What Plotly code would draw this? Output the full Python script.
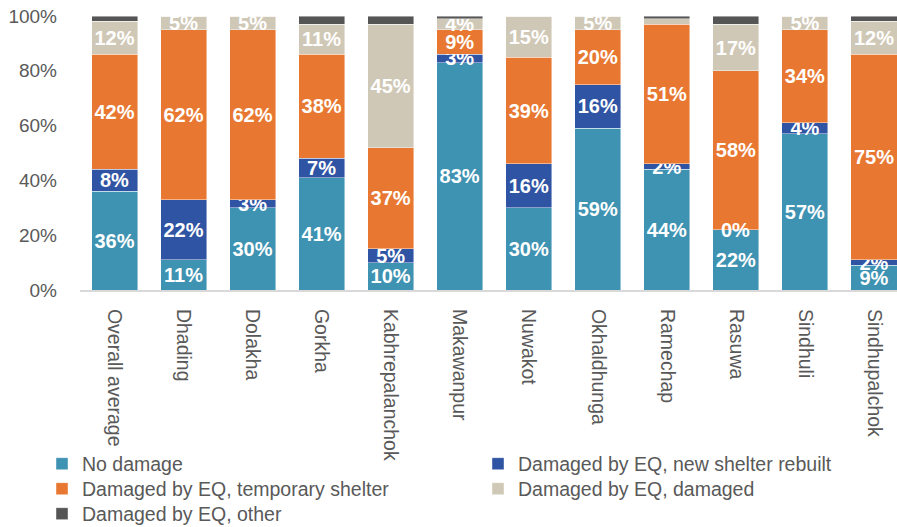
import plotly.graph_objects as go

# Districts shown along the x axis
categories = [
    "Overall average", "Dhading", "Dolakha", "Gorkha", "Kabhrepalanchok",
    "Makawanpur", "Nuwakot", "Okhaldhunga", "Ramechap", "Rasuwa",
    "Sindhuli", "Sindhupalchok",
]

# Share of households (%) by shelter status
no_damage   = [36, 11, 30, 41, 10, 83, 30, 59, 44, 22, 57, 9]
new_shelter = [8, 22, 3, 7, 5, 3, 16, 16, 2, 0, 4, 2]
temporary   = [42, 62, 62, 38, 37, 9, 39, 20, 51, 58, 34, 75]
damaged     = [12, 5, 5, 11, 45, 4, 15, 5, 2, 17, 5, 12]
other       = [2, 0, 0, 3, 3, 1, 0, 0, 1, 3, 0, 2]

y_ticks = [0, 20, 40, 60, 80, 100]
y_tick_text = [f"{v}%" for v in y_ticks]

FONT = "Liberation Sans, Arial, sans-serif"
GREY = "#595959"

W, H = 897, 527
ML, MR, MT, MB = 80, 0, 16, 237

LABEL_FONT = dict(family=FONT, size=20, color="white", weight="bold")


def labels(vals, hide=()):
    return ["" if i in hide else f"{v}%" for i, v in enumerate(vals)]


series = [
    ("No damage", no_damage, "#3E92B2", labels(no_damage), "legend2"),
    ("Damaged by EQ, new shelter rebuilt", new_shelter, "#2F54A3", labels(new_shelter), "legend3"),
    ("Damaged by EQ, temporary shelter", temporary, "#E87831", labels(temporary), "legend4"),
    ("Damaged by EQ, damaged", damaged, "#D0C8B6", labels(damaged, hide={8}), "legend5"),
    ("Damaged by EQ, other", other, "#555555", [""] * len(other), "legend6"),
]

fig = go.Figure()
base = [0] * len(categories)
zero_notes = []
for name, vals, color, txt, leg in series:
    fig.add_trace(go.Bar(
        x=categories, y=vals, name=name, legend=leg,
        marker=dict(color=color, line=dict(color="rgba(255,255,255,0.55)", width=0.8)),
        text=txt, textposition="inside", insidetextanchor="middle",
        textangle=0, constraintext="none",
        textfont=LABEL_FONT,
        hoverinfo="skip",
    ))
    # zero-height segments get no bar text, so label them at their stack level
    for i, v in enumerate(vals):
        if v == 0 and txt[i]:
            zero_notes.append(dict(
                x=categories[i], y=base[i], text=txt[i], showarrow=False,
                xanchor="center", yanchor="middle", font=LABEL_FONT,
            ))
        base[i] += v

# legend entries laid out in two columns below the axis (pixel positions)
legend_pos = {
    "legend2": (42, 464),
    "legend3": (478, 464),
    "legend4": (42, 489),
    "legend5": (478, 489),
    "legend6": (42, 514),
}
leg_layout = {}
for key, (lx, ly) in legend_pos.items():
    leg_layout[key] = dict(
        xref="container", yref="container",
        x=lx / W, y=1 - ly / H, xanchor="left", yanchor="middle",
        font=dict(family=FONT, size=19.5, color=GREY),
        bgcolor="rgba(0,0,0,0)", borderwidth=0, itemclick=False,
    )

fig.update_layout(
    width=W, height=H,
    margin=dict(l=ML, r=MR, t=MT, b=MB, pad=0, autoexpand=False),
    barmode="stack", bargap=0.333,
    plot_bgcolor="white", paper_bgcolor="white",
    font=dict(family=FONT, color=GREY),
    annotations=zero_notes,
    **leg_layout,
)

fig.update_xaxes(
    type="category", range=[-0.5, 11.333],
    showline=True, linecolor="#D9D9D9", linewidth=2,
    showgrid=False, zeroline=False, ticks="",
    tickangle=90, ticklabelstandoff=13,
    tickfont=dict(family=FONT, size=19.5, color=GREY),
)
fig.update_yaxes(
    range=[0, 100], tickvals=y_ticks, ticktext=y_tick_text,
    showgrid=False, zeroline=False, showline=False, ticks="",
    ticklabelstandoff=22,
    tickfont=dict(family=FONT, size=19, color=GREY),
)

fig.write_html("out.html")
